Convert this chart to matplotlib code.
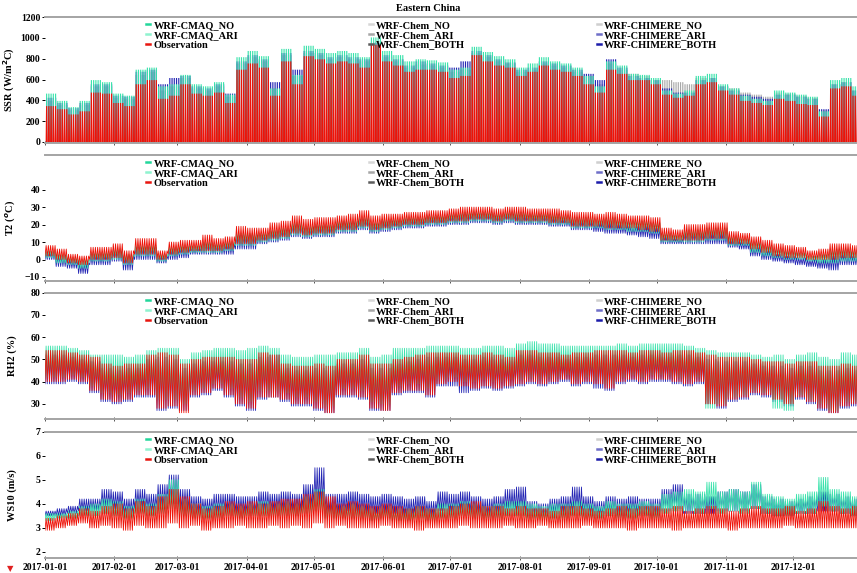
import datetime as dt
import numpy as np
import matplotlib
matplotlib.use("Agg")
import matplotlib.pyplot as plt
import matplotlib.dates as mdates
from matplotlib.lines import Line2D
from matplotlib.legend import Legend

plt.rcParams.update({
    'font.family': 'serif',
    'font.serif': ['Liberation Serif', 'DejaVu Serif'],
    'font.weight': 'bold',
    'axes.labelweight': 'bold',
    'font.size': 7.5,
})

# 5-day (pentad) envelopes, 73 pentads = 2017
# SSR: daily peak (night values are 0)
ssr_obs = [350, 320, 270, 300, 480, 470, 380, 350, 560, 600,
           420, 450, 560, 470, 450, 480, 380, 700, 760, 720,
           450, 780, 560, 830, 800, 760, 780, 760, 720, 940,
           780, 740, 680, 700, 700, 680, 620, 640, 840, 780,
           740, 720, 640, 680, 740, 700, 680, 640, 560, 480,
           700, 660, 600, 600, 560, 460, 430, 450, 560, 580,
           500, 460, 400, 380, 360, 420, 400, 370, 360, 250,
           520, 540, 450]
ssr_cmaq = [470, 400, 340, 400, 600, 580, 470, 450, 700, 720,
            540, 560, 650, 560, 540, 580, 460, 820, 880, 830,
            520, 900, 650, 930, 900, 860, 880, 860, 820, 1010,
            880, 840, 780, 800, 790, 770, 700, 720, 920, 870,
            830, 800, 720, 760, 820, 780, 760, 720, 640, 540,
            780, 740, 660, 650, 620, 500, 470, 500, 640, 660,
            560, 520, 450, 420, 400, 500, 480, 460, 440, 300,
            600, 620, 540]
ssr_chimere = [430, 380, 330, 380, 560, 560, 450, 440, 680, 700,
               560, 620, 640, 540, 520, 560, 470, 780, 840, 800,
               580, 860, 700, 880, 860, 820, 840, 820, 800, 960,
               840, 800, 740, 780, 760, 740, 720, 780, 880, 840,
               800, 770, 700, 720, 780, 760, 740, 700, 660, 600,
               800, 720, 640, 620, 600, 520, 480, 480, 600, 620,
               540, 500, 460, 440, 420, 460, 460, 440, 420, 320,
               560, 580, 500]
ssr_chem = [400, 360, 310, 360, 540, 540, 430, 420, 650, 680,
            500, 540, 620, 520, 500, 540, 440, 760, 820, 780,
            520, 840, 640, 860, 840, 800, 820, 800, 780, 940,
            820, 780, 720, 750, 740, 720, 680, 700, 860, 820,
            780, 760, 680, 700, 760, 740, 720, 680, 640, 560,
            760, 700, 660, 640, 600, 600, 580, 560, 620, 620,
            540, 520, 480, 460, 440, 480, 470, 450, 430, 310,
            560, 580, 500]

# T2: daily max / min
t2_obs_hi = [8, 6, 3, 2, 7, 7, 9, 5, 12, 12,
             5, 10, 11, 11, 14, 12, 13, 19, 18, 18,
             21, 22, 25, 23, 24, 24, 25, 26, 28, 25,
             26, 26, 27, 27, 28, 28, 29, 30, 30, 30,
             29, 30, 30, 29, 29, 29, 28, 27, 27, 26,
             27, 26, 25, 25, 24, 18, 17, 20, 20, 21,
             21, 16, 15, 13, 11, 9, 8, 7, 5, 6,
             9, 9, 8]
t2_obs_lo = [2, 0, -2, -3, 0, 0, 1, -2, 3, 3,
             0, 3, 4, 5, 5, 5, 6, 9, 9, 11,
             12, 13, 15, 14, 15, 15, 17, 17, 19, 17,
             18, 19, 20, 20, 21, 21, 22, 22, 23, 23,
             22, 23, 22, 22, 22, 21, 21, 19, 19, 19,
             18, 18, 18, 17, 16, 11, 11, 11, 11, 12,
             12, 9, 9, 6, 4, 2, 1, 1, 0, 0,
             0, 1, 1]
t2_cmaq_hi = [5, 3, 1, 0, 4, 4, 6, 3, 8, 8,
              3, 7, 8, 8, 10, 9, 10, 15, 15, 15,
              17, 18, 21, 19, 20, 20, 22, 22, 24, 21,
              23, 23, 24, 24, 25, 25, 26, 27, 27, 27,
              26, 27, 27, 26, 26, 26, 25, 24, 24, 23,
              24, 23, 22, 22, 21, 15, 14, 17, 17, 18,
              18, 13, 12, 10, 8, 6, 5, 4, 2, 3,
              6, 6, 5]
t2_cmaq_lo = [1, -2, -3, -5, -1, -1, 0, -3, 2, 2,
              -1, 2, 3, 4, 4, 4, 5, 8, 8, 10,
              11, 12, 14, 13, 14, 14, 16, 16, 18, 16,
              17, 18, 19, 19, 20, 20, 21, 21, 22, 22,
              21, 22, 21, 21, 21, 20, 20, 18, 18, 18,
              17, 17, 16, 16, 15, 10, 10, 10, 10, 11,
              11, 8, 8, 4, 2, 1, 0, 0, -1, -2,
              -2, -1, -1]
t2_chimere_hi = [4, 2, 0, -2, 3, 3, 5, 2, 7, 7,
                 2, 6, 7, 7, 9, 8, 9, 14, 14, 14,
                 16, 17, 20, 18, 19, 19, 21, 21, 23, 20,
                 22, 22, 23, 23, 24, 24, 25, 26, 26, 26,
                 25, 26, 25, 25, 25, 24, 23, 22, 22, 21,
                 21, 20, 19, 19, 18, 13, 12, 15, 15, 15,
                 15, 11, 10, 7, 5, 3, 2, 1, 0, 0,
                 2, 3, 2]
t2_chimere_lo = [0, -4, -5, -8, -3, -3, -1, -6, 0, 0,
                 -2, 0, 1, 3, 3, 3, 3, 6, 6, 9,
                 10, 11, 13, 12, 13, 13, 15, 15, 17, 15,
                 16, 17, 18, 18, 19, 19, 20, 20, 21, 21,
                 20, 21, 20, 20, 20, 19, 19, 17, 17, 16,
                 15, 15, 14, 13, 12, 9, 9, 9, 9, 9,
                 9, 7, 6, 2, 0, -1, -2, -3, -4, -5,
                 -6, -3, -3]

# RH2: daily max / min
rh_obs_hi = [54, 54, 53, 52, 51, 48, 47, 48, 48, 52,
             53, 52, 48, 50, 51, 51, 51, 50, 50, 53,
             52, 48, 47, 47, 48, 47, 50, 50, 52, 48,
             48, 50, 51, 52, 53, 53, 53, 52, 52, 53,
             52, 51, 54, 54, 53, 53, 52, 53, 53, 54,
             54, 54, 53, 54, 54, 53, 54, 54, 53, 52,
             51, 51, 51, 50, 49, 49, 48, 49, 49, 47,
             47, 48, 47]
rh_obs_lo = [40, 40, 41, 40, 36, 32, 31, 32, 34, 34,
             28, 29, 26, 34, 35, 37, 34, 30, 28, 33,
             33, 32, 30, 30, 28, 26, 34, 34, 33, 28,
             27, 35, 36, 36, 34, 39, 40, 38, 37, 38,
             37, 38, 39, 40, 39, 40, 41, 39, 40, 39,
             37, 40, 41, 40, 41, 41, 40, 39, 40, 30,
             29, 32, 33, 35, 34, 32, 30, 33, 31, 28,
             26, 29, 30]
rh_cmaq_hi = [56, 56, 55, 54, 52, 52, 52, 51, 52, 54,
              55, 55, 50, 53, 54, 55, 55, 54, 55, 56,
              55, 52, 51, 51, 52, 52, 53, 53, 55, 51,
              52, 55, 55, 55, 56, 56, 56, 55, 55, 56,
              56, 55, 57, 58, 57, 57, 56, 56, 56, 56,
              56, 57, 56, 57, 57, 57, 57, 56, 55, 54,
              53, 53, 53, 52, 51, 52, 50, 52, 53, 51,
              50, 53, 52]
rh_cmaq_lo = [42, 42, 43, 42, 38, 35, 34, 35, 36, 37,
              32, 32, 30, 36, 37, 39, 37, 33, 31, 36,
              36, 35, 33, 33, 31, 29, 37, 37, 36, 31,
              30, 38, 39, 39, 37, 41, 42, 40, 40, 41,
              40, 41, 41, 42, 41, 42, 43, 41, 42, 41,
              39, 42, 43, 42, 43, 43, 42, 41, 42, 28,
              30, 33, 34, 36, 35, 28, 27, 34, 32, 30,
              27, 31, 31]
rh_chimere_hi = [52, 52, 51, 50, 49, 46, 45, 46, 46, 50,
                 51, 50, 46, 48, 49, 49, 49, 48, 48, 51,
                 52, 46, 45, 45, 46, 45, 48, 48, 50, 46,
                 46, 48, 49, 50, 51, 51, 51, 50, 50, 51,
                 50, 49, 52, 52, 51, 51, 50, 51, 51, 52,
                 52, 52, 51, 52, 52, 51, 52, 52, 51, 50,
                 49, 49, 49, 48, 47, 47, 46, 47, 47, 45,
                 45, 46, 45]
rh_chimere_lo = [39, 39, 40, 39, 35, 31, 30, 31, 33, 33,
                 27, 28, 27, 33, 34, 36, 33, 29, 27, 32,
                 33, 31, 29, 29, 27, 26, 33, 33, 32, 27,
                 27, 34, 35, 35, 33, 38, 38, 35, 36, 37,
                 36, 37, 38, 39, 38, 39, 40, 38, 39, 37,
                 36, 39, 40, 39, 40, 40, 39, 38, 39, 30,
                 28, 31, 32, 34, 33, 31, 29, 32, 30, 27,
                 26, 28, 29]

# WS10: daily max / min
ws_obs_hi = [3.4, 3.5, 3.6, 3.8, 3.7, 3.9, 4.0, 3.8, 4.1, 3.9,
             4.3, 4.6, 4.3, 4.0, 3.8, 3.9, 4.1, 4.0, 4.1, 4.0,
             4.1, 4.2, 4.2, 4.4, 4.5, 4.3, 4.0, 4.1, 4.0, 3.9,
             4.0, 3.9, 3.8, 3.9, 3.8, 3.8, 3.9, 4.0, 4.1, 3.9,
             3.9, 3.8, 3.9, 3.8, 3.8, 3.7, 3.9, 3.9, 3.8, 3.7,
             3.8, 3.9, 3.8, 3.9, 3.9, 3.8, 3.9, 3.7, 3.8, 3.9,
             3.8, 3.7, 3.8, 3.9, 3.8, 3.8, 3.9, 3.7, 3.8, 4.1,
             3.9, 3.8, 3.9]
ws_obs_lo = [2.9, 3.0, 3.1, 3.2, 3.0, 3.1, 3.0, 2.9, 3.1, 3.0,
             3.0, 3.2, 3.0, 3.1, 2.9, 3.0, 3.0, 3.1, 3.0, 3.0,
             3.1, 3.0, 3.1, 3.0, 3.2, 3.0, 3.1, 3.0, 3.0, 3.0,
             3.1, 3.0, 3.0, 2.9, 3.0, 3.0, 3.0, 3.1, 3.0, 3.0,
             3.0, 3.1, 3.0, 3.0, 3.1, 3.0, 3.0, 3.0, 3.1, 3.0,
             3.0, 3.0, 2.9, 3.0, 3.0, 3.0, 2.9, 3.0, 3.0, 3.0,
             3.0, 2.9, 3.0, 3.0, 3.0, 3.0, 3.1, 3.0, 3.0, 3.0,
             3.0, 3.0, 3.0]
ws_cmaq_hi = [3.6, 3.6, 3.7, 3.9, 4.0, 4.2, 4.1, 3.9, 4.2, 4.0,
              4.4, 5.0, 4.2, 4.0, 3.9, 4.0, 4.0, 3.9, 4.0, 4.1,
              4.0, 4.1, 4.0, 4.3, 4.6, 4.0, 3.9, 4.0, 3.9, 3.8,
              3.9, 3.8, 3.8, 3.9, 3.8, 4.0, 4.0, 4.1, 4.0, 3.9,
              4.0, 4.1, 4.1, 4.0, 3.9, 4.0, 4.0, 4.1, 4.0, 3.9,
              4.1, 4.0, 4.0, 4.1, 4.0, 4.4, 4.5, 4.6, 4.5, 4.9,
              4.5, 4.6, 4.5, 4.9, 4.4, 4.3, 4.2, 4.4, 4.5, 5.1,
              4.6, 4.5, 4.3]
ws_cmaq_lo = [3.3, 3.4, 3.4, 3.5, 3.5, 3.6, 3.5, 3.4, 3.6, 3.5,
              3.6, 3.8, 3.5, 3.4, 3.4, 3.4, 3.5, 3.4, 3.5, 3.5,
              3.5, 3.5, 3.5, 3.6, 3.7, 3.4, 3.4, 3.4, 3.4, 3.3,
              3.4, 3.3, 3.3, 3.4, 3.3, 3.4, 3.4, 3.5, 3.4, 3.4,
              3.4, 3.5, 3.5, 3.4, 3.4, 3.4, 3.4, 3.5, 3.4, 3.4,
              3.5, 3.4, 3.4, 3.5, 3.4, 3.6, 3.7, 3.7, 3.6, 3.8,
              3.6, 3.7, 3.6, 3.8, 3.6, 3.5, 3.5, 3.6, 3.6, 3.9,
              3.7, 3.6, 3.5]
ws_chimere_hi = [3.7, 3.8, 3.9, 4.2, 4.2, 4.6, 4.5, 4.2, 4.6, 4.4,
                 4.8, 5.2, 4.6, 4.3, 4.2, 4.4, 4.4, 4.3, 4.3, 4.5,
                 4.4, 4.5, 4.4, 4.8, 5.5, 4.4, 4.4, 4.5, 4.4, 4.3,
                 4.4, 4.3, 4.2, 4.3, 4.1, 4.5, 4.4, 4.5, 4.3, 4.2,
                 4.3, 4.6, 4.7, 4.1, 4.0, 4.2, 4.3, 4.7, 4.3, 4.1,
                 4.3, 4.2, 4.3, 4.2, 4.2, 4.6, 4.8, 4.4, 4.4, 4.3,
                 4.5, 4.6, 4.5, 4.8, 4.3, 4.2, 4.1, 4.2, 4.3, 4.5,
                 4.4, 4.3, 4.2]
ws_chimere_lo = [3.5, 3.5, 3.6, 3.7, 3.7, 3.8, 3.8, 3.6, 3.8, 3.7,
                 3.8, 4.0, 3.7, 3.6, 3.6, 3.6, 3.7, 3.6, 3.6, 3.7,
                 3.7, 3.7, 3.7, 3.8, 3.9, 3.6, 3.6, 3.7, 3.6, 3.6,
                 3.6, 3.6, 3.5, 3.6, 3.5, 3.7, 3.6, 3.7, 3.6, 3.5,
                 3.6, 3.7, 3.7, 3.5, 3.5, 3.6, 3.6, 3.7, 3.6, 3.5,
                 3.6, 3.5, 3.6, 3.6, 3.5, 3.7, 3.8, 3.6, 3.6, 3.6,
                 3.7, 3.7, 3.7, 3.8, 3.6, 3.5, 3.5, 3.6, 3.6, 3.7,
                 3.7, 3.6, 3.5]

ssr_night = np.zeros(len(ssr_obs))

series_names = ['WRF-CMAQ_NO', 'WRF-CMAQ_ARI', 'Observation',
                'WRF-Chem_NO', 'WRF-Chem_ARI', 'WRF-Chem_BOTH',
                'WRF-CHIMERE_NO', 'WRF-CHIMERE_ARI', 'WRF-CHIMERE_BOTH']
series_colors = ['#22d69a', '#8ff3cf', '#e8150e',
                 '#d6d6d6', '#a6a6a6', '#5c5c5c',
                 '#cfcfcf', '#6f6fc8', '#1c1caa']
C_CMAQ, C_OBS, C_CHEM, C_CHIM = '#3be3ac', '#ee1208', '#a8a8a8', '#2426b4'

start = mdates.date2num(dt.datetime(2017, 1, 1))


def daily_trace(lo, hi, night=False, base=0.46, top=0.36):
    lo_d = np.repeat(np.asarray(lo, float), 5)
    hi_d = np.repeat(np.asarray(hi, float), 5)
    days = np.arange(lo_d.size)
    if night:
        x = days[:, None] + np.array([0.5 - base, 0.5 - top, 0.5 + top, 0.5 + base])
        y = np.column_stack([lo_d, hi_d, hi_d, lo_d])
    else:
        x = days[:, None] + np.array([0.0, 0.5])
        y = np.column_stack([lo_d, hi_d])
    return start + x.ravel(), y.ravel()


panels = [
    ('SSR (W/m$^2$C)', (-10, 1205), np.arange(0, 1201, 200), True,
     [(ssr_night, ssr_chem, C_CHEM), (ssr_night, ssr_chimere, C_CHIM),
      (ssr_night, ssr_cmaq, C_CMAQ), (ssr_night, ssr_obs, C_OBS)]),
    ('T2 ($^o$C)', (-12.3, 60), np.arange(-10, 41, 10), False,
     [(t2_chimere_lo, t2_chimere_hi, C_CHIM), (t2_cmaq_lo, t2_cmaq_hi, C_CMAQ),
      (t2_obs_lo, t2_obs_hi, C_OBS)]),
    ('RH2 (%)', (23.2, 80), np.arange(30, 81, 10), False,
     [(rh_chimere_lo, rh_chimere_hi, C_CHIM), (rh_cmaq_lo, rh_cmaq_hi, C_CMAQ),
      (rh_obs_lo, rh_obs_hi, C_OBS)]),
    ('WS10 (m/s)', (1.75, 7), np.arange(2, 8, 1), False,
     [(ws_chimere_lo, ws_chimere_hi, C_CHIM), (ws_cmaq_lo, ws_cmaq_hi, C_CMAQ),
      (ws_obs_lo, ws_obs_hi, C_OBS)]),
]

fig = plt.figure(figsize=(8.57, 5.73), dpi=100)
bottoms = [0.7504, 0.5096, 0.2688, 0.0262]
col_x = [0.122, 0.396, 0.677]

for i, (ylabel, ylim, yticks, night, traces) in enumerate(panels):
    ax = fig.add_axes([0.0525, bottoms[i], 0.9475, 0.2205])
    for lo, hi, c in traces:
        if night:
            # radiation pulses: daytime columns, obs trapezoid on top
            if c == C_OBS:
                x, y = daily_trace(lo, hi, True, 0.45, 0.26)
            else:
                x, y = daily_trace(lo, hi, True, 0.26, 0.26)
            ax.fill_between(x, 0, y, color=c, lw=0)
        else:
            x, y = daily_trace(lo, hi)
            ax.plot(x, y, color=c, lw=0.6)

    ax.set_xlim(start, start + 362.5)
    ax.set_ylim(*ylim)
    ax.set_yticks(yticks)
    ax.set_ylabel(ylabel, fontsize=7.5)
    ax.yaxis.set_label_coords(-0.034, 0.5)
    for s in ['left', 'right']:
        ax.spines[s].set_visible(False)
    for s in ['top', 'bottom']:
        ax.spines[s].set_color('#a4a4a4')
        ax.spines[s].set_linewidth(1.4)
    ax.tick_params(axis='y', length=2.5, width=0.7, labelsize=7, pad=1)
    ax.tick_params(axis='x', length=3, width=0.7, direction='inout', labelsize=7,
                   colors='#555555', labelcolor='black', pad=2)
    ax.xaxis.set_major_locator(mdates.MonthLocator())
    ax.xaxis.set_major_formatter(mdates.DateFormatter('%Y-%m-%d'))
    if i < 3:
        ax.tick_params(axis='x', labelbottom=False)

    for k in range(3):
        handles = [Line2D([], [], color=series_colors[3 * k + j], lw=1.8)
                   for j in range(3)]
        leg = Legend(ax, handles, series_names[3 * k:3 * k + 3], loc='upper left',
                     bbox_to_anchor=(col_x[k], 0.985), frameon=False,
                     fontsize=7.5, handlelength=0.4, handletextpad=0.3,
                     labelspacing=0.05, borderpad=0.2, borderaxespad=0)
        ax.add_artist(leg)

fig.text(0.5, 0.986, 'Eastern China', ha='center', va='center', fontsize=7.5)
fig.text(0.012, 0.008, '\u25bc', color='#e02020', fontsize=6,
         family='DejaVu Sans', ha='center', va='center')

fig.savefig('out.png', dpi=100)
